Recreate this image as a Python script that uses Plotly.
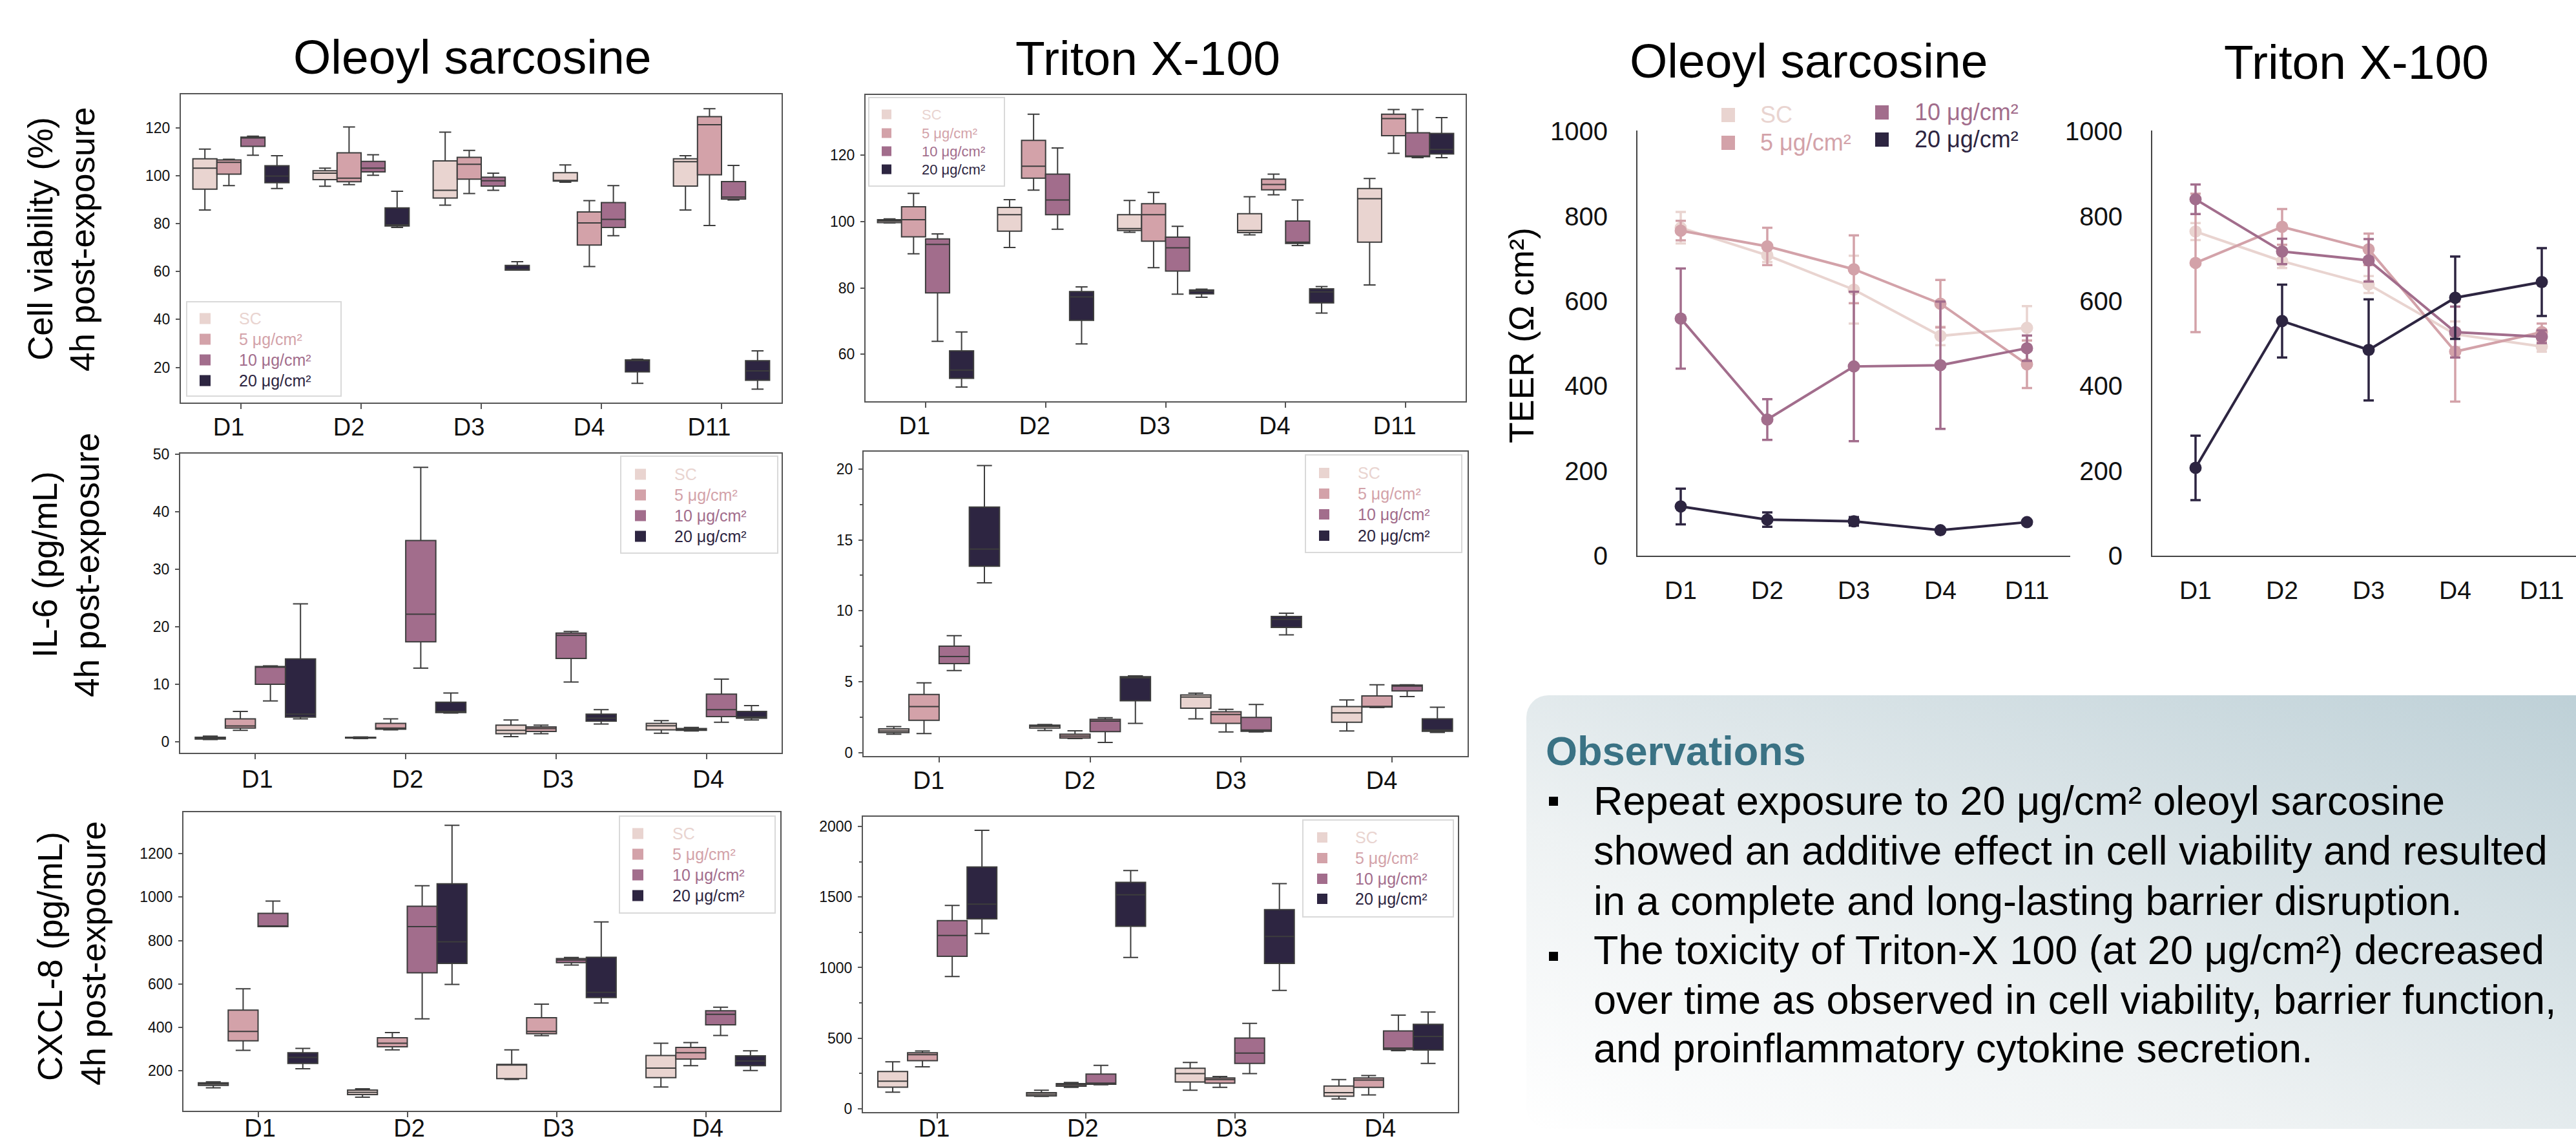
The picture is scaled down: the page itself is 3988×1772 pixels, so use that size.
import base64
import plotly.graph_objects as go

W, H = 3988, 1772
FONT = "Liberation Sans, Arial, sans-serif"

# ---------------- categories / groups ----------------
groups = ["SC", "5 μg/cm²", "10 μg/cm²", "20 μg/cm²"]
colors = ["#e9d4d0", "#d3a2a9", "#a26d8c", "#2d2541"]
days5 = ["D1", "D2", "D3", "D4", "D11"]
days4 = ["D1", "D2", "D3", "D4"]

# ---------------- Cell viability, Oleoyl sarcosine (groups x days) ----------------
via_ole_low = [[85.7, 95.6, 87.7, 97.3, 85.7], [95.9, 96.3, 92.6, 62.1, 79.2],
               [108.6, 100.2, 93.9, 75.0, 89.9], [94.7, 78.4, 60.6, 13.3, 10.9]]
via_ole_q1 = [[94.4, 98.4, 90.7, 97.8, 95.7], [100.7, 97.5, 98.6, 71.1, 100.4],
              [112.3, 101.6, 95.7, 78.4, 90.3], [97.1, 79.0, 60.6, 18.1, 14.6]]
via_ole_med = [[103.2, 101.1, 93.9, 98.0, 105.9], [105.6, 99.0, 104.8, 80.3, 121.3],
               [115.8, 103.2, 97.9, 81.8, 91.1], [99.9, 79.5, 60.9, 22.9, 18.5]]
via_ole_q3 = [[107.1, 102.1, 106.2, 101.3, 107.1], [106.6, 109.6, 107.7, 84.9, 124.7],
              [116.1, 106.0, 99.4, 88.8, 97.6], [104.2, 86.6, 62.6, 23.1, 22.8]]
via_ole_high = [[111.1, 103.2, 118.2, 104.5, 108.4], [106.9, 120.4, 110.6, 89.6, 128.0],
                [116.5, 108.8, 101.1, 95.9, 104.3], [108.4, 93.5, 64.1, 23.4, 26.9]]

# ---------------- Cell viability, Triton X-100 ----------------
via_tri_low = [[99.6, 92.2, 96.8, 96.0, 80.9], [90.3, 109.5, 86.1, 108.1, 120.6],
               [63.9, 97.7, 78.1, 92.8, 119.3], [50.1, 63.1, 77.2, 72.4, 119.3]]
via_tri_q1 = [[99.7, 97.1, 97.3, 96.7, 93.8], [95.4, 113.1, 94.1, 109.6, 125.9],
              [78.5, 102.1, 85.1, 93.4, 119.6], [52.7, 70.2, 78.2, 75.5, 120.4]]
via_tri_med = [[100.2, 102.1, 97.9, 97.3, 106.9], [100.6, 116.7, 102.1, 111.2, 131.1],
               [93.1, 106.5, 92.1, 93.8, 119.8], [55.2, 77.3, 79.0, 78.8, 121.8]]
via_tri_q3 = [[100.6, 104.3, 102.1, 102.4, 110.0], [104.5, 124.5, 105.4, 112.8, 132.4],
              [94.8, 114.3, 95.3, 100.2, 126.8], [61.0, 78.9, 79.4, 79.7, 126.6]]
via_tri_high = [[100.8, 106.6, 106.4, 107.5, 113.0], [108.5, 132.4, 108.8, 114.3, 133.8],
                [96.3, 122.2, 98.6, 106.5, 133.8], [66.7, 80.3, 79.6, 80.4, 131.4]]

# ---------------- IL-6, Oleoyl sarcosine ----------------
il6_ole_low = [[0.4, 0.58, 0.9, 1.5], [2.0, 2.1, 1.4, 1.9], [7.1, 12.8, 10.4, 3.4], [4.0, 5.0, 3.1, 3.8]]
il6_ole_q1 = [[0.5, 0.66, 1.4, 2.1], [2.4, 2.2, 1.8, 2.0], [10.0, 17.4, 14.5, 4.4], [4.3, 5.1, 3.6, 4.1]]
il6_ole_med = [[0.66, 0.74, 2.0, 2.8], [2.76, 2.4, 2.3, 2.1], [13.0, 22.2, 18.5, 5.6], [4.8, 5.3, 4.1, 4.3]]
il6_ole_q3 = [[0.8, 0.8, 2.9, 3.2], [4.0, 3.2, 2.6, 2.3], [13.1, 35.0, 18.9, 8.3], [14.4, 6.9, 4.8, 5.3]]
il6_ole_high = [[1.0, 0.85, 3.8, 3.7], [5.3, 4.0, 2.9, 2.5], [13.2, 47.7, 19.2, 10.9], [24.0, 8.5, 5.6, 6.3]]

# ---------------- IL-6, Triton X-100 ----------------
il6_tri_low = [[1.29, 1.55, 2.37, 1.52], [1.33, 0.98, 1.45, 3.17], [5.78, 0.71, 1.45, 3.95], [11.97, 2.05, 8.30, 1.42]]
il6_tri_q1 = [[1.40, 1.72, 3.13, 2.13], [2.27, 1.01, 2.05, 3.20], [6.27, 1.47, 1.50, 4.34], [13.15, 3.65, 8.82, 1.50]]
il6_tri_med = [[1.52, 1.85, 3.91, 2.79], [3.24, 1.15, 2.68, 3.24], [6.77, 2.21, 1.58, 4.69], [14.36, 5.27, 9.39, 1.58]]
il6_tri_q3 = [[1.66, 1.93, 4.06, 3.24], [4.09, 1.29, 2.87, 3.99], [7.50, 2.34, 2.48, 4.75], [17.32, 5.35, 9.60, 2.37]]
il6_tri_high = [[1.83, 1.97, 4.18, 3.71], [4.91, 1.53, 3.05, 4.78], [8.24, 2.45, 3.39, 4.78], [20.25, 5.41, 9.83, 3.19]]

# ---------------- CXCL-8, Oleoyl sarcosine ----------------
cx_ole_low = [[122.6, 78.9, 160.7, 125.8], [294.9, 297.1, 362.5, 224.0],
              [864.2, 439.9, 687.5, 363.6], [209.8, 598.0, 513.0, 202.2]]
cx_ole_q1 = [[133.5, 90.9, 165.1, 169.5], [338.5, 311.2, 371.2, 254.5],
             [864.2, 651.5, 698.4, 412.6], [234.9, 695.1, 538.1, 224.0]]
cx_ole_med = [[140.0, 101.9, 228.4, 213.1], [382.1, 327.6, 382.1, 284.0],
              [866.3, 864.1, 710.4, 460.6], [262.2, 794.3, 562.0, 245.8]]
cx_ole_q3 = [[145.5, 111.7, 230.5, 270.9], [480.3, 352.7, 445.4, 308.0],
             [925.2, 957.9, 716.9, 477.0], [284.0, 1061.5, 723.4, 269.8]]
cx_ole_high = [[149.8, 118.2, 297.1, 327.6], [578.4, 376.7, 507.5, 330.9],
               [981.9, 1052.8, 722.4, 493.3], [303.6, 1330.9, 885.9, 292.7]]

# ---------------- CXCL-8, Triton X-100 ----------------
cx_tri_low = [[117.5, 87.3, 131.0, 68.8], [297.2, 151.1, 151.1, 97.4],
              [937.0, 169.6, 248.5, 411.4], [1241.0, 1071.4, 837.9, 320.7]]
cx_tri_q1 = [[152.8, 90.7, 189.8, 89.0], [340.9, 159.5, 181.4, 151.1],
             [1079.8, 173.0, 320.7, 419.8], [1345.1, 1293.0, 1029.4, 416.5]]
cx_tri_med = [[194.8, 102.4, 248.5, 114.2], [382.9, 169.6, 206.5, 203.2],
              [1227.5, 181.4, 394.6, 429.9], [1449.2, 1516.4, 1220.8, 512.2]]
cx_tri_q3 = [[263.6, 114.2, 287.2, 161.2], [396.3, 178.0, 218.3, 218.3],
             [1333.3, 245.2, 500.4, 550.8], [1712.8, 1603.7, 1410.6, 597.8]]
cx_tri_high = [[332.5, 131.0, 327.5, 206.5], [409.7, 186.4, 228.4, 235.1],
               [1440.8, 307.3, 604.5, 663.3], [1973.1, 1687.7, 1595.3, 685.1]]

# ---------------- TEER (mean and error) ----------------
teer_ole_mean = [[773, 708, 627, 518, 537], [766, 729, 675, 594, 451],
                 [559, 321, 446, 449, 489], [116, 85, 81, 60, 79]]
teer_ole_err = [[37, 16, 80, 22, 51], [23, 44, 80, 56, 56],
                [118, 48, 176, 150, 30], [42, 17, 10, 5, 5]]
teer_tri_mean = [[764, 694, 639, 522, 493], [690, 775, 722, 481, 527],
                 [840, 717, 696, 527, 516], [207, 553, 485, 608, 645]]
teer_tri_err = [[20, 16, 20, 30, 12], [163, 42, 37, 118, 20],
                [35, 30, 50, 60, 15], [76, 86, 119, 97, 80]]

# ---------------- text ----------------
title_ole = "Oleoyl sarcosine"
title_tri = "Triton X-100"
obs_title = "Observations"
obs_lines = [
    "Repeat exposure to 20 μg/cm² oleoyl sarcosine",
    "showed an additive effect in cell viability and resulted",
    "in a complete and long-lasting barrier disruption.",
    "The toxicity of Triton-X 100 (at 20 μg/cm²) decreased",
    "over time as observed in cell viability, barrier function,",
    "and proinflammatory cytokine secretion.",
]


def fx(p):
    return p / W


def fy(p):
    return 1 - p / H


fig = go.Figure()
shapes = []
annotations = []

# ---------------- box panels ----------------
box_panels = [
    # idx, cats, data, x px domain, y px domain, y range, tickvals, minor dtick, label shift, standoff
    (1, days5, (via_ole_low, via_ole_q1, via_ole_med, via_ole_q3, via_ole_high),
     (280, 1210), (146, 623), (5.3, 134.0), [20, 40, 60, 80, 100, 120], None, -19, -5),
    (2, days5, (via_tri_low, via_tri_q1, via_tri_med, via_tri_q3, via_tri_high),
     (1340, 2269), (147, 621), (45.8, 138.2), [60, 80, 100, 120], None, -17, -5),
    (3, days4, (il6_ole_low, il6_ole_q1, il6_ole_med, il6_ole_q3, il6_ole_high),
     (279, 1210), (702, 1165), (-1.9, 50.1), [0, 10, 20, 30, 40, 50], None, 3, -2),
    (4, days4, (il6_tri_low, il6_tri_q1, il6_tri_med, il6_tri_q3, il6_tri_high),
     (1337, 2272), (699, 1170), (-0.25, 21.23), [0, 5, 10, 15, 20], 2.5, -16, -5),
    (5, days4, (cx_ole_low, cx_ole_q1, cx_ole_med, cx_ole_q3, cx_ole_high),
     (284, 1208), (1257, 1719), (16.8, 1390.8), [200, 400, 600, 800, 1000, 1200], None, 3, -16),
    (6, days4, (cx_tri_low, cx_tri_q1, cx_tri_med, cx_tri_q3, cx_tri_high),
     (1336, 2257), (1264, 1721), (-23.5, 2068.8), [0, 500, 1000, 1500, 2000], 250, -5, -18),
]

layout_axes = {}
for idx, cats, data, xd, yd, yr, tv, minor_dt, shift, stand in box_panels:
    low, q1, med, q3, high = data
    sfx = "" if idx == 1 else str(idx)
    for gi in range(4):
        fig.add_trace(go.Box(
            x=cats, q1=q1[gi], median=med[gi], q3=q3[gi],
            lowerfence=low[gi], upperfence=high[gi],
            name=groups[gi], fillcolor=colors[gi],
            line=dict(color="#3d3d3d", width=2), whiskerwidth=0.5,
            boxpoints=False, showlegend=False,
            offsetgroup=str(gi), alignmentgroup="p%d" % idx,
            xaxis="x" + sfx, yaxis="y" + sfx,
        ))
    xa = dict(domain=[fx(xd[0]), fx(xd[1])], anchor="y" + sfx, type="category",
              categoryorder="array", categoryarray=cats, range=[-0.5, len(cats) - 0.5],
              showline=True, mirror=True, linecolor="#555555", linewidth=2,
              ticks="outside", ticklen=8, tickwidth=2, tickcolor="#555555",
              tickfont=dict(size=38, color="#111111", family=FONT), automargin=False,
              showgrid=False, zeroline=False, ticklabelshift=shift, ticklabelstandoff=stand)
    ya = dict(domain=[fy(yd[1]), fy(yd[0])], anchor="x" + sfx, range=list(yr),
              tickmode="array", tickvals=tv, automargin=False,
              showline=True, mirror=True, linecolor="#555555", linewidth=2,
              ticks="outside", ticklen=6, tickwidth=2, tickcolor="#555555",
              tickfont=dict(size=23, color="#111111", family=FONT),
              showgrid=False, zeroline=False, ticklabelstandoff=4)
    if minor_dt:
        ya["minor"] = dict(ticks="outside", ticklen=4, tickwidth=1.5, tickcolor="#555555",
                           dtick=minor_dt, tick0=0)
    layout_axes["xaxis" + sfx] = xa
    layout_axes["yaxis" + sfx] = ya

# ---------------- TEER panels ----------------
teer_panels = [
    (7, teer_ole_mean, teer_ole_err, (2535, 3205), (-0.5, 4.5)),
    (8, teer_tri_mean, teer_tri_err, (3332, 3988), (-0.5, -0.5 + (3988 - 3332) / 134.0)),
]
for idx, mean, err, xd, xr in teer_panels:
    sfx = str(idx)
    for gi in range(4):
        fig.add_trace(go.Scatter(
            x=days5, y=mean[gi], mode="lines+markers", name=groups[gi],
            line=dict(color=colors[gi], width=4),
            marker=dict(color=colors[gi], size=19),
            error_y=dict(type="data", array=err[gi], color=colors[gi], thickness=3.5, width=8),
            showlegend=False, xaxis="x" + sfx, yaxis="y" + sfx,
        ))
    layout_axes["xaxis" + sfx] = dict(
        domain=[fx(xd[0]), fx(xd[1])], anchor="y" + sfx, type="category",
        categoryorder="array", categoryarray=days5, range=list(xr), automargin=False,
        showline=True, linecolor="#444444", linewidth=2, ticks="",
        tickfont=dict(size=39, color="#111111", family=FONT),
        showgrid=False, zeroline=False, ticklabelstandoff=18)
    layout_axes["yaxis" + sfx] = dict(
        domain=[fy(860), fy(202)], anchor="x" + sfx, range=[0, 1002], automargin=False,
        tickmode="array", tickvals=[0, 200, 400, 600, 800, 1000],
        showline=True, linecolor="#444444", linewidth=2, ticks="",
        tickfont=dict(size=40, color="#111111", family=FONT),
        showgrid=False, zeroline=False, ticklabelstandoff=36)


# ---------------- helpers for text / legends ----------------
def text(x, y, s, size, color="#000000", xanchor="center", angle=0, bold=False):
    annotations.append(dict(
        x=fx(x), y=fy(y), xref="paper", yref="paper", text=("<b>%s</b>" % s) if bold else s,
        showarrow=False, xanchor=xanchor, yanchor="middle", textangle=angle,
        font=dict(size=size, color=color, family=FONT)))


def rect(x0, y0, x1, y1, fill, line=None, lw=0):
    shapes.append(dict(type="rect", xref="paper", yref="paper",
                       x0=fx(x0), x1=fx(x1), y0=fy(y1), y1=fy(y0),
                       fillcolor=fill, line=dict(color=line or fill, width=lw), layer="above"))


def legend_box(bx, by, mx, msz, rows, tx, fs):
    rect(bx[0], by[0], bx[1], by[1], "white", "#d9d9d9", 2)
    for gi in range(4):
        rect(mx, rows[gi] - msz / 2, mx + msz, rows[gi] + msz / 2, colors[gi])
        text(tx, rows[gi], groups[gi], fs, colors[gi], xanchor="left")


legend_box((289, 528), (467, 613), 309, 17, [493, 525, 557, 589], 368, 25)
legend_box((1345, 1555), (151, 288), 1365, 15, [177, 206, 234, 262], 1425, 22)
legend_box((961, 1204), (706, 856), 983, 17, [734, 766, 798, 830], 1042, 25)
legend_box((2021, 2263), (704, 855), 2042, 16, [732, 764, 796, 829], 2100, 25)
legend_box((959, 1200), (1263, 1413), 979, 17, [1290, 1322, 1354, 1386], 1039, 25)
legend_box((2017, 2250), (1269, 1419), 2039, 16, [1296, 1328, 1360, 1391], 2096, 25)

# TEER legend (two columns)
teer_leg = [(2665, 178, 2723), (2665, 221, 2723), (2903, 174, 2962), (2903, 216, 2962)]
for gi, (mx, my, tx) in enumerate(teer_leg):
    rect(mx, my - 11, mx + 21, my + 11, colors[gi])
    text(tx, my, groups[gi], 36, colors[gi], xanchor="left")

# titles
text(731, 88, title_ole, 75)
text(1777, 90, title_tri, 75)
text(2800, 94, title_ole, 75)
text(3648, 96, title_tri, 75)

# y-axis titles
text(62, 370, "Cell viability (%)", 53, angle=-90)
text(127, 370, "4h post-exposure", 53, angle=-90)
text(69, 874, "IL-6 (pg/mL)", 53, angle=-90)
text(134, 874, "4h post-exposure", 53, angle=-90)
text(77, 1480, "CXCL-8 (pg/mL)", 53, angle=-90)
text(144, 1475, "4h post-exposure", 53, angle=-90)
text(2355, 519, "TEER (Ω cm²)", 53, angle=-90)

# observations panel (gradient background as an SVG image)
svg = ('<svg xmlns="http://www.w3.org/2000/svg" width="1700" height="671" viewBox="0 0 1700 671">'
       '<defs><linearGradient id="g" x1="0" y1="1" x2="1" y2="0">'
       '<stop offset="0" stop-color="#ffffff"/><stop offset="0.35" stop-color="#eef2f3"/>'
       '<stop offset="1" stop-color="#bccfd6"/></linearGradient></defs>'
       '<rect x="0" y="0" width="1700" height="671" rx="34" ry="34" fill="url(#g)"/></svg>')
src = "data:image/svg+xml;base64," + base64.b64encode(svg.encode()).decode()
images = [dict(source=src, xref="paper", yref="paper", x=fx(2363), y=fy(1076),
               sizex=fx(2363 + 1700) - fx(2363), sizey=671 / H, xanchor="left", yanchor="top",
               sizing="stretch", layer="below")]

text(2391, 1162, obs_title, 63, "#3a7284", xanchor="left", bold=True)
baselines = [1261, 1338, 1416, 1492, 1569, 1644]
for s, b in zip(obs_lines, baselines):
    text(2465, b - 22, s, 63, "#000000", xanchor="left")
rect(2398, 1233, 2412, 1247, "#000000")
rect(2398, 1473, 2412, 1487, "#000000")

fig.update_layout(
    width=W, height=H, margin=dict(l=0, r=0, t=0, b=0, autoexpand=False),
    paper_bgcolor="white", plot_bgcolor="white",
    boxmode="group", boxgap=0.2, boxgroupgap=0,
    font=dict(family=FONT, color="#111111"),
    showlegend=False, shapes=shapes, annotations=annotations, images=images,
    **layout_axes,
)

fig.write_html("out.html", config={"displayModeBar": False},
               post_script="document.body.style.margin='0';"
               "document.documentElement.style.overflow='hidden';")
